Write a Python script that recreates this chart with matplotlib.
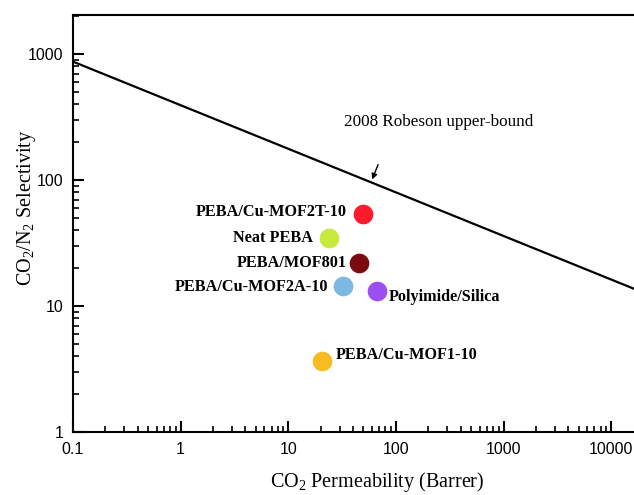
import numpy as np
import matplotlib
matplotlib.use('Agg')
import matplotlib.pyplot as plt

# membrane data (CO2 permeability in Barrer, CO2/N2 selectivity)
names = ['PEBA/Cu-MOF2T-10', 'Neat PEBA', 'PEBA/MOF801', 'PEBA/Cu-MOF2A-10',
         'Polyimide/Silica', 'PEBA/Cu-MOF1-10']
permeability = [49.5, 23.9, 45.5, 32.3, 66.8, 20.6]
selectivity = [53.7, 34.7, 21.9, 14.4, 13.2, 3.66]
colors = ['#ff1b2d', '#c6ea3c', '#7b0b0e', '#7cb9e2', '#9a4ff0', '#f7bb24']
# label offsets in pixels (dx, dy) and horizontal alignment
label_offsets = [(-16, 2), (-16, 0), (-12, 0), (-15, -1), (12, -6), (14, 6)]
label_ha = ['right', 'right', 'right', 'right', 'left', 'left']

# 2008 Robeson upper bound, end points
bound_p = [0.1, 16300]
bound_a = [870, 13.7]

plt.rcParams['font.family'] = 'Liberation Serif'
plt.rcParams['mathtext.fontset'] = 'custom'
plt.rcParams['mathtext.rm'] = 'Liberation Serif'
plt.rcParams['mathtext.it'] = 'Liberation Serif:italic'

fig = plt.figure(figsize=(6.34, 4.95), dpi=100)
ax = fig.add_axes([73 / 634., 63 / 495., 561 / 634., 417 / 495.])

ax.plot(bound_p, bound_a, color='k', lw=1.6)

for k in range(len(names)):
    ax.scatter(permeability[k], selectivity[k], s=200, color=colors[k], zorder=3, linewidths=0)
    ax.annotate(names[k], (permeability[k], selectivity[k]), xytext=label_offsets[k],
                textcoords='offset pixels', ha=label_ha[k], va='center',
                fontsize=11.7, fontweight='bold')

ax.annotate('', xy=(58.9, 96.4), xytext=(69.8, 139),
            arrowprops=dict(arrowstyle='-|>', color='k', lw=1, mutation_scale=8))
ax.text(252, 289, '2008 Robeson upper-bound', ha='center', va='center', fontsize=12.3)

ax.set_xscale('log')
ax.set_yscale('log')
ax.set_xlim(0.1, 16300)
ax.set_ylim(1, 2040)

ax.set_xticks([0.1, 1, 10, 100, 1000, 10000])
ax.set_xticklabels(['0.1', '1', '10', '100', '1000', '10000'])
ax.set_yticks([1, 10, 100, 1000])
ax.set_yticklabels(['1', '10', '100', '1000'])

ax.tick_params(which='major', direction='in', length=8, width=1.5, pad=7, labelsize=11.5)
ax.tick_params(which='minor', direction='in', length=4, width=1.2)
for lab in ax.get_xticklabels() + ax.get_yticklabels():
    lab.set_family('Liberation Sans')

for s in ['left', 'bottom', 'top']:
    ax.spines[s].set_linewidth(1.5)
ax.spines['right'].set_visible(False)

ax.set_xlabel('CO$_2$ Permeability (Barrer)', fontsize=14.5)
ax.set_ylabel('CO$_2$/N$_2$ Selectivity', fontsize=14.5)
ax.xaxis.set_label_coords(0.542, -0.092)
ax.yaxis.set_label_coords(-0.063, 0.537)

plt.savefig('out.png', dpi=100)
